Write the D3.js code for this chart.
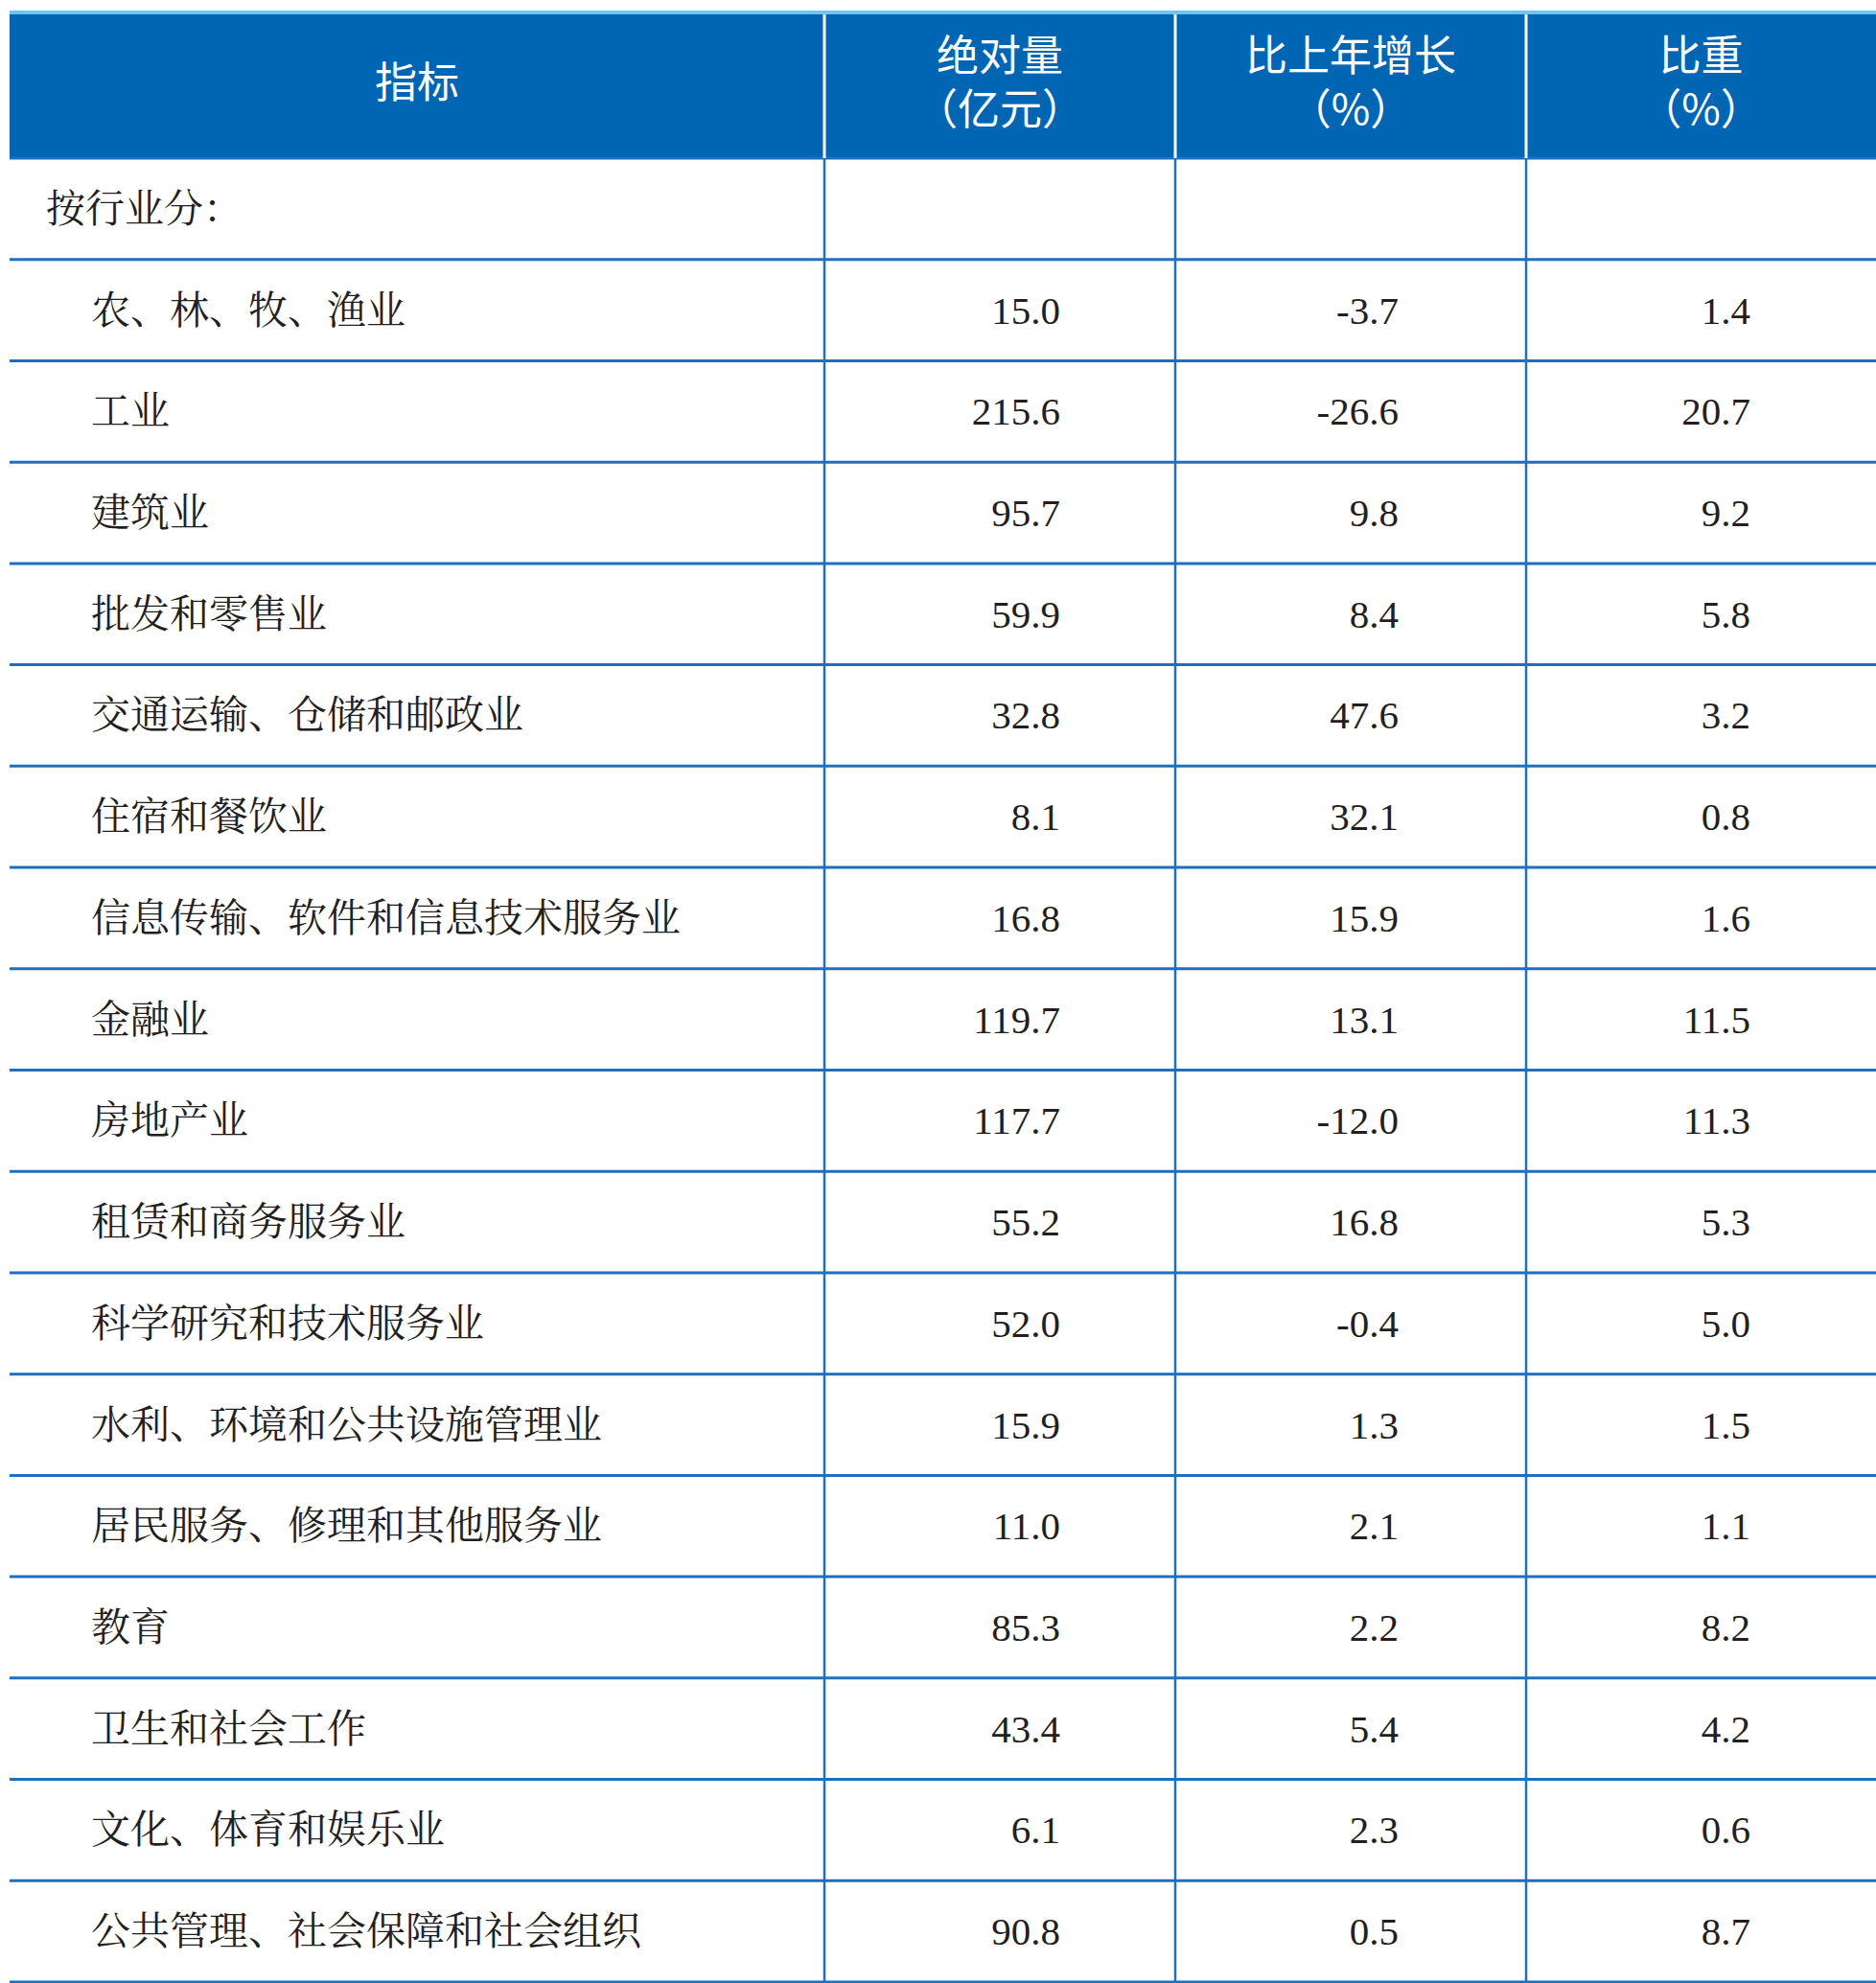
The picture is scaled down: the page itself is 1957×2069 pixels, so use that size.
<!DOCTYPE html><html><head><meta charset="utf-8"><script src="https://cdn.jsdelivr.net/npm/d3@7"></script>
<style>body{margin:0;background:#fff}</style></head><body><svg id="c" width="1957" height="2069"></svg><script>
const headers=[["指标"],["绝对量","（亿元）"],["比上年增长","（%）"],["比重","（%）"]];
const categories=["农、林、牧、渔业","工业","建筑业","批发和零售业","交通运输、仓储和邮政业","住宿和餐饮业","信息传输、软件和信息技术服务业","金融业","房地产业","租赁和商务服务业","科学研究和技术服务业","水利、环境和公共设施管理业","居民服务、修理和其他服务业","教育","卫生和社会工作","文化、体育和娱乐业","公共管理、社会保障和社会组织"];
const absolute=["15.0","215.6","95.7","59.9","32.8","8.1","16.8","119.7","117.7","55.2","52.0","15.9","11.0","85.3","43.4","6.1","90.8"];
const growth=["-3.7","-26.6","9.8","8.4","47.6","32.1","15.9","13.1","-12.0","16.8","-0.4","1.3","2.1","2.2","5.4","2.3","0.5"];
const share=["1.4","20.7","9.2","5.8","3.2","0.8","1.6","11.5","11.3","5.3","5.0","1.5","1.1","8.2","4.2","0.6","8.7"];
const groupLabel="按行业分：";
(function(){
const svg=d3.select("#c");
const colX=[10,860,1226,1592,1957];
const tableTop=12,headB=165,rowH=(2068-165)/18;
const blue="#0066b3",line="#1f6fbf";
svg.append("rect").attr("x",10).attr("y",tableTop).attr("width",1947).attr("height",headB-tableTop).attr("fill",blue);
svg.append("rect").attr("x",10).attr("y",tableTop-1).attr("width",1947).attr("height",4).attr("fill","#6ec6f0");
const y=d3.scaleLinear().domain([0,18]).range([headB,headB+18*rowH]);
headers.forEach((h,i)=>{const cx=(colX[i]+colX[i+1])/2;
 const ys=h.length==1?[102]:[74,130];
 h.forEach((t,j)=>svg.append("text").attr("x",cx).attr("y",ys[j]).attr("text-anchor","middle").attr("fill","#fff").attr("font-family","Noto Sans CJK SC").attr("font-size",44).text(t));});
for(let k=0;k<=18;k++)svg.append("line").attr("x1",10).attr("x2",1957).attr("y1",y(k)).attr("y2",y(k)).attr("stroke",line).attr("stroke-width",3);
[1,2,3].forEach(i=>{
 svg.append("line").attr("x1",colX[i]).attr("x2",colX[i]).attr("y1",tableTop+3).attr("y2",headB).attr("stroke","#fff").attr("stroke-width",3);
 svg.append("line").attr("x1",colX[i]).attr("x2",colX[i]).attr("y1",headB).attr("y2",2069).attr("stroke",line).attr("stroke-width",2.5);});
const txt=(x,yy,t,anchor,ff)=>svg.append("text").attr("x",x).attr("y",yy).attr("text-anchor",anchor).attr("fill","#231f20").attr("font-family",ff).attr("font-size",41).text(t);
const cjk="Noto Serif CJK SC, Noto Sans CJK SC";
txt(48,y(0.5)+14,groupLabel,"start",cjk);
categories.forEach((c,i)=>{const yy=y(i+1.5)+14;
 txt(95,yy,c,"start",cjk);
 txt(1106,yy,absolute[i],"end","Liberation Serif");
 txt(1459,yy,growth[i],"end","Liberation Serif");
 txt(1826,yy,share[i],"end","Liberation Serif");});
})();
</script></body></html>
